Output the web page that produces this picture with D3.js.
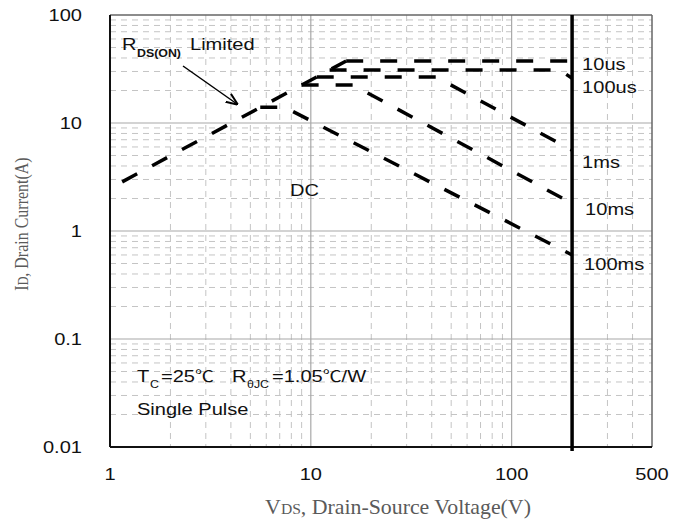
<!DOCTYPE html>
<html>
<head>
<meta charset="utf-8">
<script src="https://cdn.jsdelivr.net/npm/d3@7"></script>
<style>
    body { margin: 0; background: #fff; }
    .sans { font-family: "Liberation Sans", Arial, "Noto Sans CJK SC", sans-serif; }
    .serif { font-family: "Liberation Serif", "Times New Roman", serif; }
    .cjk { font-family: "Noto Sans CJK SC", sans-serif; }
</style>
</head>
<body>
<div id="soa-chart"></div>
<script>
// Axis ticks
var xTickValues = [1, 10, 100, 500];
var yTickValues = [0.01, 0.1, 1, 10, 100];

// RDS(ON) limit line (V, A)
var rdsLimitV = [1.15, 15];
var rdsLimitI = [2.85, 37.5];

// Pulse width curves (V, A)
var pulseLabels = ["10us", "100us", "1ms", "10ms", "100ms"];
var pulseV = [
    [15, 200],
    [12.4, 173, 200],
    [10.7, 42, 200],
    [9, 16.2, 200],
    [5.6, 7.4, 200]
];
var pulseI = [
    [37.5, 37.5],
    [31, 31, 26],
    [26.7, 26.7, 5.6],
    [22.5, 22.5, 1.8],
    [14, 14, 0.6]
];

// Max drain-source voltage
var vdsMax = 200;

/*
 * SOA chart - Object constructor function
 * @param _parentElement -- the HTML element in which to draw the chart
 */
SoaChart = function (_parentElement) {
    this.parentElement = _parentElement;
    this.initVis();
};

SoaChart.prototype.initVis = function () {
    var vis = this;

    vis.margin = {top: 15, right: 21, bottom: 75, left: 110};
    vis.width = 673 - vis.margin.left - vis.margin.right;
    vis.height = 522 - vis.margin.top - vis.margin.bottom;
    vis.stretch = 1.18; // the source picture is a bit wider than tall

    vis.svg = d3.select("#" + vis.parentElement)
        .append("svg")
        .attr("width", 673)
        .attr("height", 522);

    vis.g = vis.svg.append("g")
        .attr("transform", "translate(" + vis.margin.left + "," + vis.margin.top + ")");

    // Scales
    vis.x = d3.scaleLog().domain([1, 500]).range([0, vis.width]);
    vis.y = d3.scaleLog().domain([0.01, 100]).range([vis.height, 0]);

    // Minor grid (dashed)
    var xMinor = vis.x.ticks().filter(function(d){ return xTickValues.indexOf(d) < 0; });
    var yMinor = vis.y.ticks().filter(function(d){ return yTickValues.indexOf(d) < 0; });

    vis.g.append("g").selectAll("line")
        .data(xMinor).enter().append("line")
        .attr("x1", function(d){ return vis.x(d); })
        .attr("x2", function(d){ return vis.x(d); })
        .attr("y1", 0).attr("y2", vis.height)
        .attr("stroke", "#c4c4c4").attr("stroke-width", 1)
        .attr("stroke-dasharray", "6,5");

    vis.g.append("g").selectAll("line")
        .data(yMinor).enter().append("line")
        .attr("y1", function(d){ return vis.y(d); })
        .attr("y2", function(d){ return vis.y(d); })
        .attr("x1", 0).attr("x2", vis.width)
        .attr("stroke", "#c4c4c4").attr("stroke-width", 1)
        .attr("stroke-dasharray", "6,5");

    // Major grid
    vis.g.append("g").selectAll("line")
        .data([10, 100]).enter().append("line")
        .attr("x1", function(d){ return vis.x(d); })
        .attr("x2", function(d){ return vis.x(d); })
        .attr("y1", 0).attr("y2", vis.height)
        .attr("stroke", "#a8a8a8").attr("stroke-width", 1.2);

    vis.g.append("g").selectAll("line")
        .data([0.1, 1, 10]).enter().append("line")
        .attr("y1", function(d){ return vis.y(d); })
        .attr("y2", function(d){ return vis.y(d); })
        .attr("x1", 0).attr("x2", vis.width)
        .attr("stroke", "#a8a8a8").attr("stroke-width", 1.2);

    // Frame: top/right gray, left/bottom black
    vis.g.append("line").attr("x1", 0).attr("x2", vis.width).attr("y1", 0).attr("y2", 0)
        .attr("stroke", "#666").attr("stroke-width", 1.5);
    vis.g.append("line").attr("x1", vis.width).attr("x2", vis.width).attr("y1", 0).attr("y2", vis.height)
        .attr("stroke", "#666").attr("stroke-width", 1.5);
    vis.g.append("line").attr("x1", 0).attr("x2", 0).attr("y1", 0).attr("y2", vis.height)
        .attr("stroke", "#111").attr("stroke-width", 2);
    vis.g.append("line").attr("x1", 0).attr("x2", vis.width).attr("y1", vis.height).attr("y2", vis.height)
        .attr("stroke", "#111").attr("stroke-width", 2);

    // Vds max line
    vis.g.append("line")
        .attr("x1", vis.x(vdsMax)).attr("x2", vis.x(vdsMax))
        .attr("y1", 0).attr("y2", vis.height + 4)
        .attr("stroke", "#000").attr("stroke-width", 3.5);

    // Curves
    vis.line = d3.line()
        .x(function(d){ return vis.x(d[0]); })
        .y(function(d){ return vis.y(d[1]); });

    var rdsPts = rdsLimitV.map(function(v, i){ return [v, rdsLimitI[i]]; });
    var curves = pulseV.map(function(vs, k){
        return vs.map(function(v, i){ return [v, pulseI[k][i]]; });
    });

    vis.g.append("g").selectAll("path")
        .data([rdsPts].concat(curves)).enter().append("path")
        .attr("d", vis.line)
        .attr("fill", "none")
        .attr("stroke", "#000")
        .attr("stroke-width", 3.5)
        .attr("stroke-dasharray", "17,17");

    // Text helper (stretched a little sideways like the source)
    vis.txt = function (x, y, str, size, anchor, cls) {
        return vis.svg.append("text")
            .attr("class", cls || "sans")
            .attr("transform", "translate(" + x + "," + y + ") scale(" + vis.stretch + ",1)")
            .attr("text-anchor", anchor || "start")
            .attr("font-size", size)
            .attr("fill", "#111")
            .text(str);
    };

    yTickValues.forEach(function(d){
        vis.txt(82, vis.margin.top + vis.y(d) + 6, String(d), 17, "end");
    });
    xTickValues.forEach(function(d){
        vis.txt(vis.margin.left + vis.x(d), 480, String(d), 17, "middle");
    });

    // Curve labels
    var labelDx = [10, 10, 10, 13, 12];
    var labelDy = [9, 15, 18, 12, 15];
    pulseLabels.forEach(function(lab, k){
        var last = pulseI[k][pulseI[k].length - 1];
        vis.txt(vis.margin.left + vis.x(vdsMax) + labelDx[k],
            vis.margin.top + vis.y(last) + labelDy[k], lab, 17);
    });

    vis.txt(290, 196, "DC", 17);

    // RDS(ON) Limited annotation
    vis.txt(122, 50, "R", 17);
    vis.txt(137, 57, "DS(ON)", 10.5).attr("font-weight", "bold");
    vis.txt(190, 50, "Limited", 17);

    vis.svg.append("defs").append("marker")
        .attr("id", "arrow")
        .attr("viewBox", "0 0 10 10")
        .attr("refX", 9).attr("refY", 5)
        .attr("markerWidth", 8).attr("markerHeight", 8)
        .attr("orient", "auto")
        .append("path")
        .attr("d", "M0,1 L10,5 L0,9")
        .attr("fill", "none")
        .attr("stroke", "#000")
        .attr("stroke-width", 1.6);

    vis.svg.append("line")
        .attr("x1", 183).attr("y1", 66)
        .attr("x2", 237).attr("y2", 104)
        .attr("stroke", "#000").attr("stroke-width", 1.5)
        .attr("marker-end", "url(#arrow)");

    // Test conditions
    vis.txt(137, 382, "T", 17);
    vis.txt(150, 388, "C", 10.5);
    var t1 = vis.txt(161, 382, "=25", 17);
    t1.append("tspan").attr("class", "cjk").attr("font-size", 16).text("\u2103");
    vis.txt(232, 382, "R", 17);
    vis.txt(247, 388, "\u03b8JC", 10.5);
    var t2 = vis.txt(272, 382, "=1.05", 17);
    t2.append("tspan").attr("class", "cjk").attr("font-size", 16).text("\u2103");
    t2.append("tspan").text("/W");
    vis.txt(137, 415, "Single Pulse", 17);

    // Axis titles
    var xt = vis.svg.append("text")
        .attr("class", "serif")
        .attr("transform", "translate(398,514) scale(1.04,1)")
        .attr("text-anchor", "middle")
        .attr("font-size", 21)
        .attr("fill", "#5a5a5a");
    xt.append("tspan").text("V");
    xt.append("tspan").attr("font-size", 15).text("DS");
    xt.append("tspan").text(", Drain-Source Voltage(V)");

    var yt = vis.svg.append("text")
        .attr("class", "serif")
        .attr("transform", "translate(28,224) scale(" + vis.stretch + ",1) rotate(-90)")
        .attr("text-anchor", "middle")
        .attr("font-size", 16)
        .attr("fill", "#5a5a5a");
    yt.append("tspan").text("I");
    yt.append("tspan").attr("font-size", 12).text("D");
    yt.append("tspan").text(", Drain Current(A)");
};

var soaChart = new SoaChart("soa-chart");
</script>
</body>
</html>
